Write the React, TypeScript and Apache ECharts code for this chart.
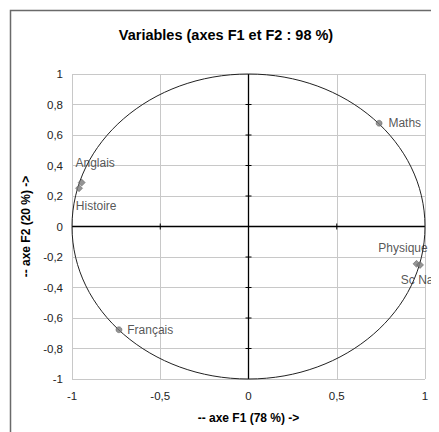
import React, { useEffect, useRef } from "react";
import * as echarts from "echarts";

// Variable coordinates on the first two factorial axes
const variables = ["Maths", "Anglais", "Histoire", "Physique", "Sc Nat", "Français"];
const f1 = [0.74, -0.945, -0.96, 0.952, 0.972, -0.734];
const f2 = [0.677, 0.288, 0.251, -0.245, -0.252, -0.677];
const symbols = ["circle", "diamond", "diamond", "diamond", "diamond", "circle"];
const labelPlacement: { position: string; offset: [number, number] }[] = [
  { position: "right", offset: [1, 0] },
  { position: "right", offset: [-15, -20] },
  { position: "right", offset: [-12, 18] },
  { position: "left", offset: [20, -16] },
  { position: "right", offset: [-28, 15] },
  { position: "right", offset: [0, 0] },
];

const xTicks = [-0.5, 0.5];
const yTicks = [-0.8, -0.6, -0.4, -0.2, 0.2, 0.4, 0.6, 0.8];

const fmt = (v: number) => String(Math.round(v * 10) / 10).replace(".", ",");

export default function App() {
  const ref = useRef<HTMLDivElement>(null);

  useEffect(() => {
    if (!ref.current) return;
    const chart = echarts.init(ref.current, undefined, { renderer: "svg" });
    const font = "Liberation Sans, Arial, sans-serif";

    chart.setOption({
      animation: false,
      backgroundColor: "#ffffff",
      title: {
        text: "Variables (axes F1 et F2 : 98 %)",
        left: 221,
        top: 22,
        textAlign: "center",
        textStyle: { fontFamily: font, fontSize: 14.5, fontWeight: "bold", color: "#000" },
      },
      graphic: [
        {
          type: "rect",
          shape: { x: 10.5, y: 10.5, width: 460, height: 460 },
          style: { fill: "none", stroke: "#6a6a6a", lineWidth: 1.5 },
          silent: true,
          z: 10,
        },
      ],
      grid: { left: 72, right: 14, top: 74, bottom: 53 },
      xAxis: {
        type: "value",
        min: -1,
        max: 1,
        interval: 0.5,
        name: "-- axe F1 (78 %) ->",
        nameLocation: "middle",
        nameGap: 33,
        nameTextStyle: { fontFamily: font, fontSize: 12, fontWeight: "bold", color: "#000" },
        axisLine: { show: false, onZero: false },
        axisTick: { show: false },
        axisLabel: { formatter: fmt, fontFamily: font, fontSize: 11.5, color: "#222", margin: 11 },
        splitLine: { lineStyle: { color: "#c8c8c8", width: 1 } },
      },
      yAxis: {
        type: "value",
        min: -1,
        max: 1,
        interval: 0.2,
        name: "-- axe F2 (20 %) ->",
        nameLocation: "middle",
        nameGap: 37,
        nameTextStyle: { fontFamily: font, fontSize: 12, fontWeight: "bold", color: "#000" },
        axisLine: { show: false, onZero: false },
        axisTick: { show: false },
        axisLabel: { formatter: fmt, fontFamily: font, fontSize: 11.5, color: "#222", margin: 9 },
        splitLine: { lineStyle: { color: "#c8c8c8", width: 1 } },
      },
      series: [
        {
          // Zero axes with crossing tick marks
          type: "custom",
          silent: true,
          clip: false,
          data: [[0, 0]],
          z: 2,
          renderItem: (_p: any, api: any) => {
            const o = api.coord([0, 0]);
            const l = api.coord([-1, 0]);
            const r = api.coord([1, 0]);
            const t = api.coord([0, 1]);
            const b = api.coord([0, -1]);
            const st = { stroke: "#000", lineWidth: 1.3 };
            const children: any[] = [
              { type: "line", shape: { x1: l[0], y1: o[1], x2: r[0], y2: o[1] }, style: st },
              { type: "line", shape: { x1: o[0], y1: t[1], x2: o[0], y2: b[1] }, style: st },
            ];
            yTicks.forEach((v) => {
              const p = api.coord([0, v]);
              children.push({
                type: "line",
                shape: { x1: p[0] - 3, y1: p[1], x2: p[0] + 3, y2: p[1] },
                style: { stroke: "#000", lineWidth: 1 },
              });
            });
            xTicks.forEach((v) => {
              const p = api.coord([v, 0]);
              children.push({
                type: "line",
                shape: { x1: p[0], y1: p[1] - 3, x2: p[0], y2: p[1] + 3 },
                style: { stroke: "#000", lineWidth: 1 },
              });
            });
            return { type: "group", children };
          },
        },
        {
          // Correlation circle of radius 1
          type: "custom",
          silent: true,
          clip: false,
          data: [[0, 0, 1]],
          z: 3,
          renderItem: (_p: any, api: any) => {
            const c = api.coord([api.value(0), api.value(1)]);
            const s = api.size([api.value(2), api.value(2)]);
            return {
              type: "ellipse",
              shape: { cx: c[0], cy: c[1], rx: s[0], ry: s[1] },
              style: { fill: "none", stroke: "#222", lineWidth: 1 },
            };
          },
        },
        {
          type: "scatter",
          z: 4,
          data: variables.map((name, i) => ({
            name,
            value: [f1[i], f2[i]],
            symbol: symbols[i],
            symbolSize: symbols[i] === "diamond" ? 7 : 6,
            label: {
              show: true,
              formatter: name,
              position: labelPlacement[i].position,
              offset: labelPlacement[i].offset,
              fontFamily: font,
              fontSize: 12,
              color: "#2a2a2a",
            },
          })),
          itemStyle: { color: "#7a7a7a", borderColor: "#555", borderWidth: 0.6 },
        },
      ],
    });

    return () => chart.dispose();
  }, []);

  return <div ref={ref} style={{ width: 439, height: 432, marginLeft: -8, marginTop: -8 }} />;
}
